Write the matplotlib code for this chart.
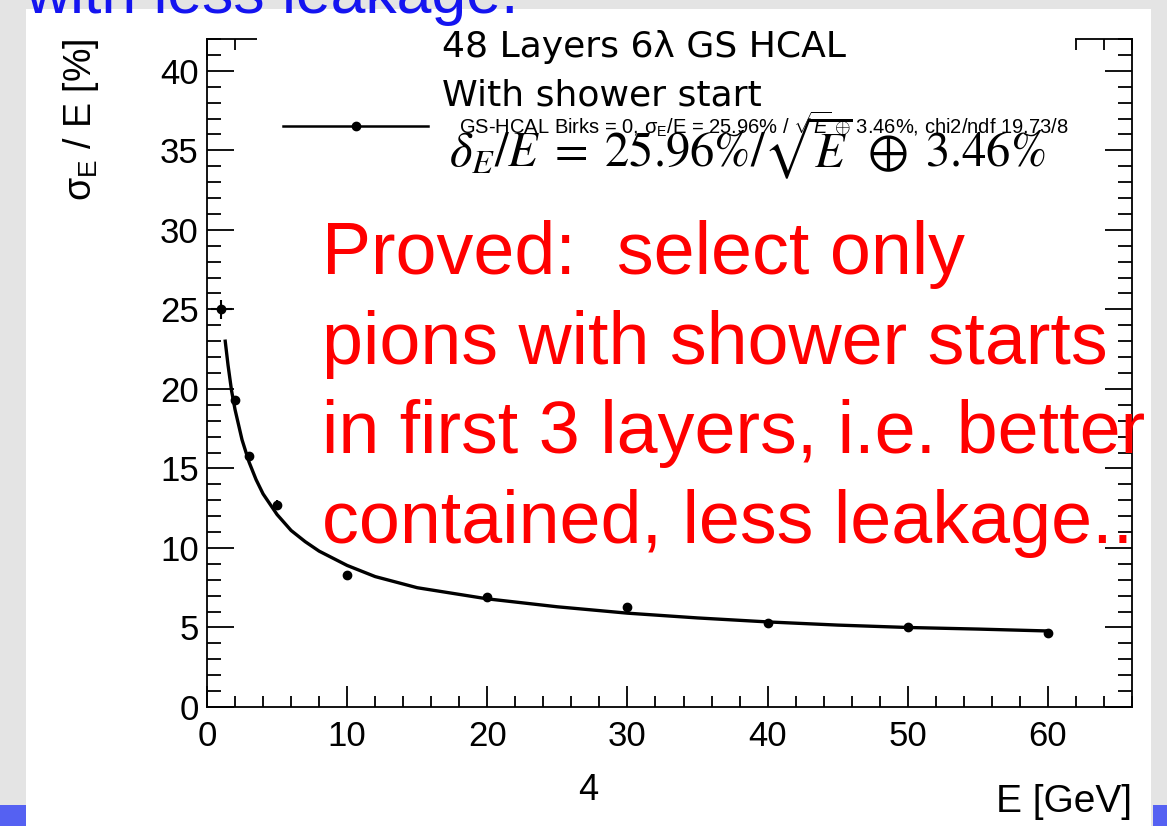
import matplotlib
matplotlib.use("Agg")
import matplotlib.pyplot as plt
from matplotlib.lines import Line2D
from matplotlib.patches import Rectangle
from matplotlib.ticker import MultipleLocator

plt.rcParams['font.family'] = ['Liberation Sans', 'DejaVu Sans']
plt.rcParams['mathtext.fontset'] = 'custom'
plt.rcParams['mathtext.rm'] = 'Liberation Sans'
plt.rcParams['mathtext.it'] = 'Liberation Sans:italic'

energy = [1, 2, 3, 5, 10, 20, 30, 40, 50, 60]
sigma = [25.0, 19.3, 15.8, 12.7, 8.3, 6.9, 6.3, 5.3, 5.0, 4.65]
sigma_err = [0.6, 0.2, 0.2, 0.3, 0.1, 0.1, 0.1, 0.1, 0.1, 0.1]
energy_err = [0.75, 0, 0, 0, 0, 0, 0, 0, 0, 0]

# fit curve as drawn
fit_e = [1.3, 1.5, 1.75, 2, 2.5, 3, 3.5, 4, 5, 6, 7, 8, 10, 12, 15, 20, 25, 30, 35, 40, 45, 50, 55, 60]
fit_sigma = [23.0, 21.5, 19.9, 18.7, 16.8, 15.4, 14.3, 13.4, 12.1, 11.1, 10.4, 9.8, 8.9, 8.2,
             7.5, 6.8, 6.3, 5.9, 5.6, 5.35, 5.15, 5.0, 4.9, 4.78]

legend_label = (r'GS-HCAL Birks = 0, σ$_{\mathregular{E}}$/E = 25.96% / $\sqrt{E}$ $\oplus$ 3.46%, '
                'chi2/ndf 19.73/8')
red_lines = ['Proved:  select only', 'pions with shower starts',
             'in first 3 layers, i.e. better', 'contained, less leakage..']

W, H = 1167, 826
fig = plt.figure(figsize=(W / 100, H / 100), dpi=100)
ax = fig.add_axes([207 / W, 1 - 707 / H, 925 / W, 668 / H])

# slide background bits
for x0, y0, w, h, c in [(0, 0, 26, H, '#e4e4e4'), (1151, 0, 16, H, '#e4e4e4'),
                        (0, H - 9, W, 9, '#e4e4e4'),
                        (0, 0, 26, 21, '#5561f2'), (1153, 0, 14, 21, '#5561f2')]:
    fig.add_artist(Rectangle((x0 / W, y0 / H), w / W, h / H, transform=fig.transFigure,
                             color=c, lw=0, zorder=-5))

ax.plot(fit_e, fit_sigma, color='black', lw=2.4, zorder=3)
ax.errorbar(energy, sigma, yerr=sigma_err, xerr=energy_err, fmt='o', color='black',
            ms=6, elinewidth=1.5, capsize=0, zorder=4)

ax.set_xlim(0, 66)
ax.set_ylim(0, 42)
ax.xaxis.set_major_locator(MultipleLocator(10))
ax.xaxis.set_minor_locator(MultipleLocator(2))
ax.yaxis.set_major_locator(MultipleLocator(5))
ax.yaxis.set_minor_locator(MultipleLocator(1))
ax.tick_params(which='both', direction='in', top=True, right=True, width=1.3, labelsize=25)
ax.tick_params(axis='y', which='major', length=19.5, pad=6)
ax.tick_params(axis='y', which='minor', length=10)
ax.tick_params(axis='x', which='major', length=15, pad=9)
ax.tick_params(axis='x', which='minor', length=8)
for s in ax.spines.values():
    s.set_linewidth(1.3)

ax.set_ylabel(r'σ$_{\mathregular{E}}$ / E [%]', fontsize=27, loc='top')
ax.yaxis.set_label_coords(-0.115, 1.0)
ax.set_xlabel('E [GeV]', fontsize=28, loc='right')
ax.xaxis.set_label_coords(1.0, -0.116)

handle = Line2D([], [], color='black', lw=1.8, marker='o', ms=6)
ax.legend([handle], [legend_label], loc='center left', bbox_to_anchor=(283 / W, 1 - 124 / H),
          bbox_transform=fig.transFigure, frameon=False, fontsize=14.5, handlelength=7.2,
          handletextpad=1.55, borderpad=0, borderaxespad=0)

# pasted text box hides the top axis
fig.add_artist(Rectangle((257 / W, 1 - 62 / H), (1075 - 257) / W, 40 / H,
                         transform=fig.transFigure, color='white', lw=0, zorder=5))

fig.text(442 / W, 1 - 57 / H, '48 Layers 6λ GS HCAL', fontsize=26,
         family='DejaVu Sans', va='baseline', zorder=6)
fig.text(442 / W, 1 - 105 / H, 'With shower start', fontsize=26,
         family='DejaVu Sans', va='baseline', zorder=6)
fig.text(449 / W, 1 - 167 / H,
         r'$\delta_E/E\;=\;25.96\%/\sqrt{E}\;\oplus\;3.46\%$', fontsize=35,
         math_fontfamily='stix', va='baseline', zorder=6)

for i, line in enumerate(red_lines):
    fig.text(322 / W, 1 - (274 + 89.7 * i) / H, line, fontsize=53, color='#ff0000',
             va='baseline', zorder=7)

fig.text(25 / W, 1 - 13 / H, 'with less leakage.', fontsize=45, color='#1414f0',
         va='baseline', zorder=7)
fig.text(588 / W, 1 - 790 / H, '4', fontsize=26, ha='center', va='center')

fig.savefig('out.png', dpi=100)
